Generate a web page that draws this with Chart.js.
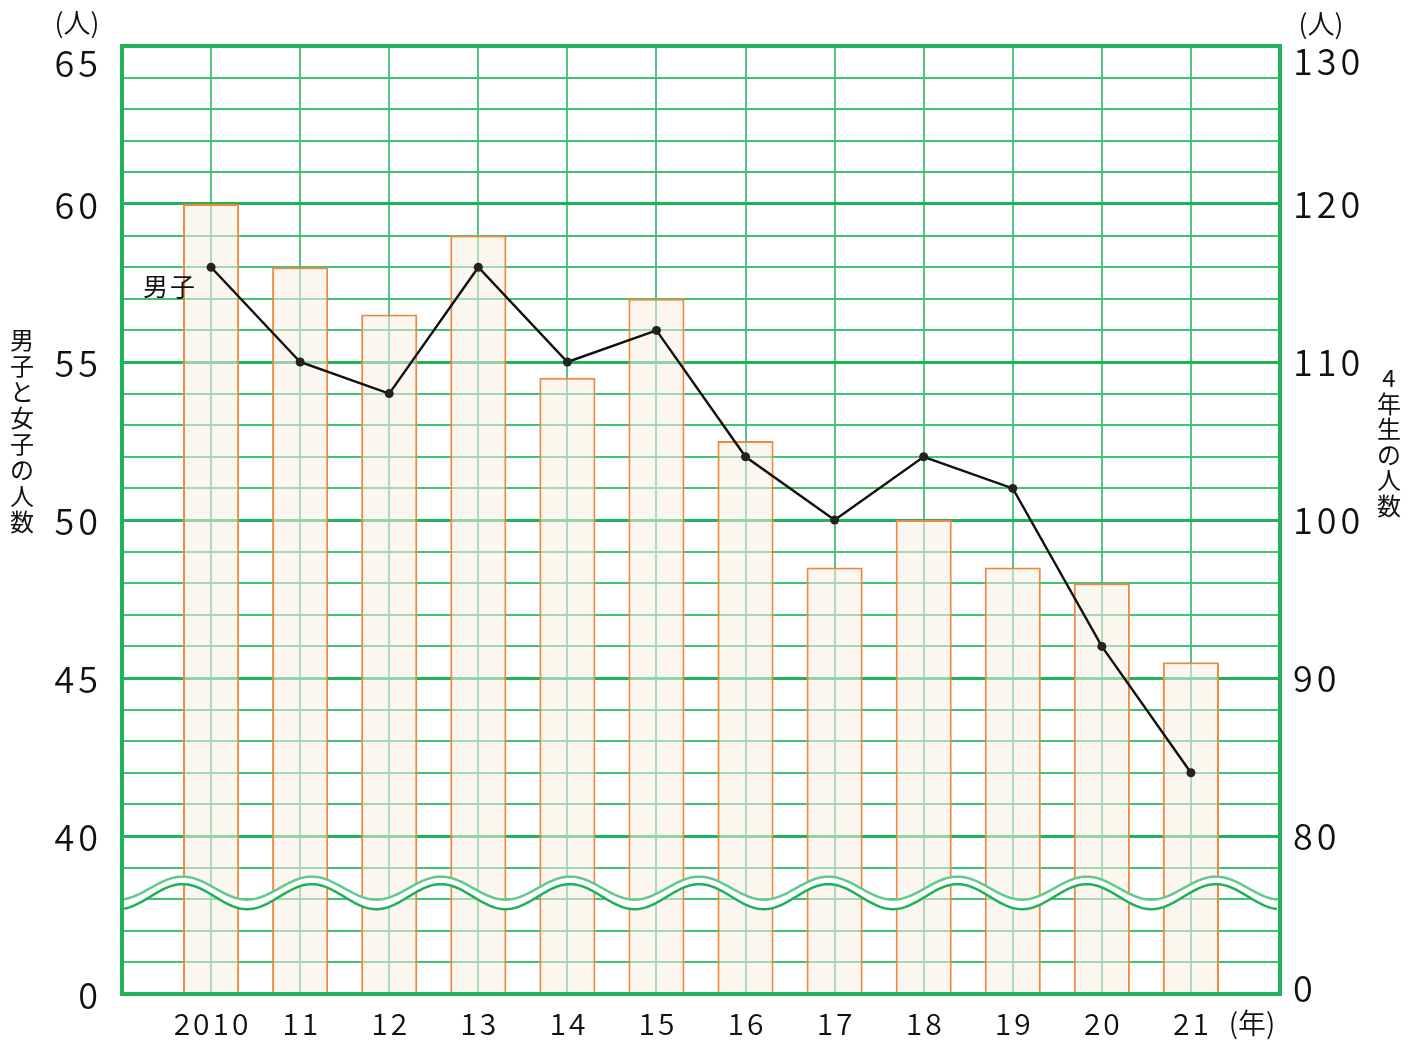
<!DOCTYPE html>
<html>
<head>
<meta charset="utf-8">
<script src="https://cdn.jsdelivr.net/npm/chart.js@4"></script>
<style>
html,body{margin:0;padding:0;background:#fff;}
#wrap{width:1417px;height:1041px;position:relative;}
</style>
</head>
<body>
<div id="wrap"><canvas id="c" width="1417" height="1041"></canvas></div>
<script>
// ---- data ----
const years = ['2010','11','12','13','14','15','16','17','18','19','20','21'];
const totalStudents = [120,116,113,118,109,114,105,97,100,97,96,91]; // 4年生の人数 (right axis)
const boys = [58,55,54,58,55,56,52,50,52,51,46,42];                 // 男子 (left axis)
const leftRange = [35,65];   // bottom of left axis is shown as "0" (broken axis)
const rightRange = [70,130]; // bottom of right axis is shown as "0"
const leftTickValues = [35,40,45,50,55,60,65];
const leftTickLabels = ['0','40','45','50','55','60','65'];
const rightTickValues = [70,80,90,100,110,120,130];
const rightTickLabels = ['0','80','90','100','110','120','130'];
const leftTitle = '男子と女子の人数';
const rightTitle = '4年生の人数';
const unitLabel = '(人)';
const yearUnit = '(年)';
const seriesLabel = '男子';

const FONT = '"Noto Sans CJK JP","Noto Sans",sans-serif';
const GREEN_MAJOR = '#1db45a';
const GREEN_MINOR = '#42c276';
const GREEN_V = '#52c682';

const labels = [''].concat(years, ['']);
const boysData = [null].concat(boys, [null]);
const totalData = [null].concat(totalStudents, [null]);

function spacedText(ctx, text, x, y, align, spacing) {
  const chars = [...text];
  const widths = chars.map(c => ctx.measureText(c).width);
  const total = widths.reduce((s, w) => s + w, 0) + spacing * (chars.length - 1);
  let sx = align === 'right' ? x - total : align === 'center' ? x - total / 2 : x;
  ctx.textAlign = 'left';
  chars.forEach((c, i) => { ctx.fillText(c, sx, y); sx += widths[i] + spacing; });
}

const decor = {
  id: 'decor',
  afterDatasetsDraw(chart) {
    const {ctx, chartArea: a, scales} = chart;
    const y = scales.y, x = scales.x;
    // wavy break lines
    const step = x.getPixelForValue(2) - x.getPixelForValue(1);
    const period = step * 1.45;
    const x0 = x.getPixelForValue(1) - step * 0.32;
    const cu = y.getPixelForValue(38.35), cl = y.getPixelForValue(38.08);
    const au = 11.5, al = 12.5;
    const fu = px => cu - au * Math.cos(2*Math.PI*(px-x0)/period);
    const fl = px => cl - al * Math.cos(2*Math.PI*(px-x0)/period);
    ctx.save();
    ctx.beginPath();
    for (let px = a.left; px <= a.right - 3; px++) { const v = fu(px); px===a.left?ctx.moveTo(px,v):ctx.lineTo(px,v); }
    for (let px = a.right - 3; px >= a.left; px--) ctx.lineTo(px, fl(px));
    ctx.closePath();
    ctx.fillStyle = '#ffffff';
    ctx.fill();
    ctx.lineWidth = 2.5;
    ctx.strokeStyle = '#62c98c';
    ctx.beginPath();
    for (let px = a.left; px <= a.right - 3; px++) { const v = fu(px); px===a.left?ctx.moveTo(px,v):ctx.lineTo(px,v); }
    ctx.stroke();
    ctx.strokeStyle = '#20b058';
    ctx.beginPath();
    for (let px = a.left + 2; px <= a.right - 3; px++) { const v = fl(px); px===a.left+2?ctx.moveTo(px,v):ctx.lineTo(px,v); }
    ctx.stroke();
    // frame
    ctx.strokeStyle = GREEN_MAJOR;
    ctx.lineWidth = 4;
    ctx.strokeRect(a.left, a.top, a.right - a.left, a.bottom - a.top);
    ctx.restore();
  },
  afterDraw(chart) {
    const {ctx, scales} = chart;
    ctx.save();
    ctx.fillStyle = '#111';
    ctx.textBaseline = 'middle';
    // y tick labels
    ctx.font = '350 36px ' + FONT;
    leftTickValues.forEach((v, i) => {
      let py = scales.y.getPixelForValue(v);
      if (v === leftRange[1]) py += 16;
      spacedText(ctx, leftTickLabels[i], 98, py + 1, 'right', 4);
    });
    rightTickValues.forEach((v, i) => {
      let py = scales.y2.getPixelForValue(v);
      if (v === rightRange[1]) py += 15;
      if (v === rightRange[0]) py -= 6;
      spacedText(ctx, rightTickLabels[i], 1293, py, 'left', 4);
    });
    // x tick labels
    ctx.font = '350 30px ' + FONT;
    years.forEach((t, i) => {
      spacedText(ctx, t, scales.x.getPixelForValue(i + 1), 1024, 'center', 3);
    });
    ctx.textAlign = 'center';
    ctx.font = '350 27px ' + FONT;
    ctx.fillText(unitLabel, 77, 23);
    ctx.fillText(unitLabel, 1321, 24);
    ctx.font = '350 28px ' + FONT;
    ctx.fillText(yearUnit, 1252, 1023);
    ctx.font = '24px ' + FONT;
    [...leftTitle].forEach((ch, i) => ctx.fillText(ch, 22, 340 + i * 26));
    [...rightTitle].forEach((ch, i) => ctx.fillText(ch, 1389, 378 + i * 25.5));
    const px = scales.x.getPixelForValue(1), py = scales.y.getPixelForValue(boys[0]);
    ctx.font = '25px ' + FONT;
    spacedText(ctx, seriesLabel, px - 42, py + 19, 'center', 2);
    ctx.restore();
  }
};

new Chart(document.getElementById('c'), {
  type: 'bar',
  data: {
    labels,
    datasets: [
      {
        type: 'line', label: seriesLabel, data: boysData, yAxisID: 'y',
        borderColor: '#111', borderWidth: 2.4, pointRadius: 4.5,
        pointBackgroundColor: '#222', pointBorderColor: '#222', pointBorderWidth: 0,
        spanGaps: false, tension: 0, order: 0
      },
      {
        type: 'bar', label: rightTitle, data: totalData, yAxisID: 'y2',
        backgroundColor: 'rgba(247,238,226,0.55)', borderColor: '#f08840', borderWidth: 2,
        borderSkipped: false, categoryPercentage: 1, barPercentage: 0.63, order: 1
      }
    ]
  },
  options: {
    responsive: false, animation: false,
    layout: {padding: {top: 46, left: 0, right: 0, bottom: 0}},
    plugins: {legend: {display: false}, tooltip: {enabled: false}},
    scales: {
      x: {
        type: 'category', offset: false,
        grid: {offset: false, color: GREEN_V, lineWidth: 2, drawTicks: false},
        border: {display: false},
        ticks: {display: false, autoSkip: false, maxRotation: 0},
        afterFit(s) { s.height = 47; }
      },
      y: {
        position: 'left', min: leftRange[0], max: leftRange[1],
        grid: {
          drawTicks: false,
          color: c => c.tick && c.tick.value % 5 === 0 ? GREEN_MAJOR : GREEN_MINOR,
          lineWidth: c => c.tick && c.tick.value % 5 === 0 ? 3 : 2
        },
        border: {display: false},
        ticks: {display: false, stepSize: 1, autoSkip: false},
        afterFit(s) { s.width = 122; }
      },
      y2: {
        position: 'right', min: rightRange[0], max: rightRange[1],
        grid: {display: false, drawTicks: false},
        border: {display: false},
        ticks: {display: false, stepSize: 2, autoSkip: false},
        afterFit(s) { s.width = 137; }
      }
    }
  },
  plugins: [decor]
});
</script>
</body>
</html>
